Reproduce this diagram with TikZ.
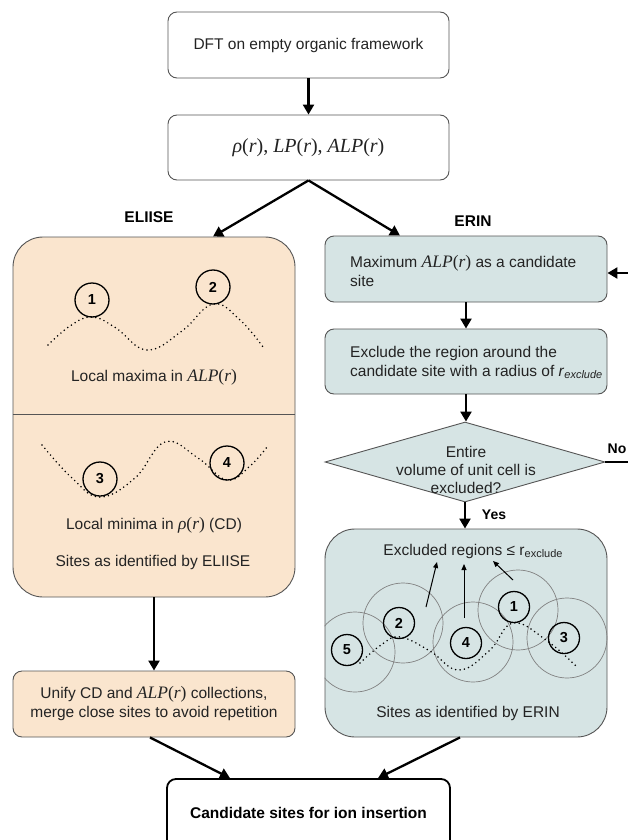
\documentclass[tikz,border=0pt]{standalone}
\usepackage{fontspec}
\setmainfont{Liberation Sans}
\newfontfamily\tmsfont{Liberation Serif}
\usetikzlibrary{arrows.meta,shapes.geometric,calc}
\definecolor{peach}{RGB}{250,229,206}
\definecolor{bluegray}{RGB}{214,228,228}
\definecolor{edgec}{RGB}{85,85,85}
\definecolor{txt}{RGB}{35,35,35}
\newcommand{\mi}[1]{{\tmsfont\itshape #1}}
\newcommand{\mup}[1]{{\tmsfont #1}}
\newcommand{\ALPr}{{\fontsize{17.5}{20}\selectfont\mi{ALP}\mup{(}\mi{r}\mup{)}}}
\newcommand{\rhor}{{\fontsize{17.5}{20}\selectfont\mi{ρ}\mup{(}\mi{r}\mup{)}}}
\begin{document}
\begin{tikzpicture}[x=1pt,y=-1pt,
  box/.style={draw=edgec, line width=0.9pt, rounded corners=9pt, inner sep=0pt, text=txt,
    font=\fontsize{15.5}{20}\selectfont, align=center},
  bigbox/.style={box, rounded corners=30pt},
  arr/.style={-{Triangle[length=10pt,width=11pt]}, line width=2.3pt},
  thinarr/.style={-{Triangle[length=6pt,width=5pt]}, line width=1pt},
  numc/.style={circle, draw=black, line width=1.3pt, inner sep=0pt, font=\bfseries\fontsize{14.5}{14.5}\selectfont},
  bigc/.style={draw=gray, line width=0.7pt},
  dotline/.style={line width=1.7pt, dash pattern=on 0pt off 4.4pt, line cap=round},
  lbl/.style={font=\bfseries\fontsize{15.5}{18}\selectfont, inner sep=0pt},
  txtn/.style={text=txt, font=\fontsize{15.5}{20}\selectfont, inner sep=0pt, align=center}]
\clip (0,0) rectangle (628,840);

% top boxes
\node[box, minimum width=281pt, minimum height=66pt] (dft) at (308.5,45) {DFT on empty organic framework};
\node[box, minimum width=281pt, minimum height=65pt] (rho) at (308.5,147.5)
  {{\fontsize{20}{22}\selectfont\mi{ρ}\mup{(}\mi{r}\mup{), }\mi{LP}\mup{(}\mi{r}\mup{), }\mi{ALP}\mup{(}\mi{r}\mup{)}}};
\draw[arr] (dft.south) -- (rho.north);

% labels
\node[lbl] (lab1) at (149,217) {ELIISE};
\node[lbl] (lab2) at (473,221) {ERIN};

% ELIISE big box
\node[bigbox, fill=peach, minimum width=282pt, minimum height=360pt] (eli) at (154,417) {};
\coordinate (divy) at (0,414);
\draw[edgec, line width=1pt] (eli.west |- divy) -- (eli.east |- divy);

\draw[dotline] plot[smooth, tension=0.7] coordinates {(48,345) (70,326) (92,317) (116,328) (147,350) (182,331) (213,304) (240,320) (263,347)};
\node[numc, minimum size=34pt] (c1) at (92,300) {1};
\node[numc, minimum size=34pt] (c2) at (213,287) {2};
\node[txtn] (t1) at (154,377) {Local maxima in \ALPr};

\draw[dotline] plot[smooth, tension=0.7] coordinates {(42,445) (72,478) (100,497) (135,478) (165,442) (198,458) (227,480) (250,466) (267,447)};
\node[numc, minimum size=34pt] (c3) at (100,479) {3};
\node[numc, minimum size=34pt] (c4) at (227,463) {4};
\node[txtn] (t2) at (154,525) {Local minima in \rhor\ (CD)};
\node[txtn] (t3) at (153,562) {Sites as identified by ELIISE};

\node[box, fill=peach, minimum width=282pt, minimum height=66pt] (uni) at (154,704)
  {Unify CD and \ALPr\ collections,\\[-1pt]merge close sites to avoid repetition};
\draw[arr] (eli.south) -- (uni.north);

% ERIN column
\node[box, fill=bluegray, minimum width=282pt, minimum height=66pt] (max) at (466,269) {};
\node[txtn, align=left, anchor=west] (maxt) at (350,271) {Maximum \ALPr\ as a candidate\\[-1pt]site};
\node[box, fill=bluegray, minimum width=282pt, minimum height=65pt] (exc) at (466,361.5) {};
\node[txtn, align=left, anchor=west] (exct) at (350,362) {Exclude the region around the\\[-1pt]candidate site with a radius of \textit{r}\raisebox{-2pt}{\fontsize{11}{11}\selectfont\textit{exclude}}};
\node[draw=edgec, line width=0.9pt, fill=bluegray, diamond, minimum width=280pt, minimum height=80pt, inner sep=0pt] (dec) at (465,462) {};
\node[txtn] (dect) at (466,470) {Entire\\[-2pt]volume of unit cell is\\[-2pt]excluded?};

\node[bigbox, fill=bluegray, minimum width=282pt, minimum height=208pt] (erin) at (466,633) {};
\begin{scope}
  \clip[rounded corners=30pt] (erin.north west) rectangle (erin.south east);
  \draw[bigc] (355,652) circle[radius=40];
  \draw[bigc] (403,623) circle[radius=40];
  \draw[bigc] (473,642) circle[radius=40];
  \draw[bigc] (518,610) circle[radius=40];
  \draw[bigc] (567,638) circle[radius=40];
\end{scope}
\draw[dotline] plot[smooth, tension=0.7] coordinates {(360,663) (381,645) (400,637) (430,651) (459,670) (490,650) (513,623) (546,640) (577,667)};
\node[numc, minimum size=31pt] (e5) at (347,650) {5};
\node[numc, minimum size=31pt] (e2) at (399,623) {2};
\node[numc, minimum size=31pt] (e4) at (466,643) {4};
\node[numc, minimum size=31pt] (e1) at (514,607) {1};
\node[numc, minimum size=31pt] (e3) at (564,638) {3};
\node[txtn] (ext) at (473,551) {Excluded regions ≤ r\raisebox{-2pt}{\fontsize{11}{11}\selectfont exclude}};
\coordinate (a1s) at (426,607); \coordinate (a1e) at (437,562);
\coordinate (a2s) at (464,618); \coordinate (a2e) at (464,564);
\coordinate (a3s) at (513,580); \coordinate (a3e) at (493,561);
\draw[thinarr] (a1s) -- (a1e);
\draw[thinarr] (a2s) -- (a2e);
\draw[thinarr] (a3s) -- (a3e);
\node[txtn] (et) at (468,713) {Sites as identified by ERIN};

\draw[arr] (max.south) -- (exc.north);
\draw[arr] (exc.south) -- (exc.south |- dec.north);
\draw[arr] (dec.south) -- (dec.south |- erin.north);
\node[lbl, font=\bfseries\fontsize{14}{16}\selectfont] (yes) at (494,515) {Yes};
\node[lbl, font=\bfseries\fontsize{14}{16}\selectfont] (no) at (617,449) {No};
\coordinate (noend) at (630,462);
\draw[line width=2.3pt] (dec.east) -- (noend);
\coordinate (loopin) at (630,273);
\draw[arr] (loopin) -- (loopin -| max.east);

% split arrows
\draw[arr] (rho.south) -- ([xshift=59pt]eli.north);
\draw[arr] (rho.south) -- ([xshift=-66pt]max.north);

% final
\node[box, draw=black, line width=1.8pt, minimum width=283pt, minimum height=75pt] (cand) at (308.5,816.5) {};
\node[lbl, font=\bfseries\fontsize{15.5}{18}\selectfont] (candt) at (308.5,813) {Candidate sites for ion insertion};
\draw[arr] ([xshift=-4pt]uni.south) -- ([xshift=-78.5pt]cand.north);
\draw[arr] ([xshift=-6pt]erin.south) -- ([xshift=69.5pt]cand.north);
\end{tikzpicture}
\end{document}
